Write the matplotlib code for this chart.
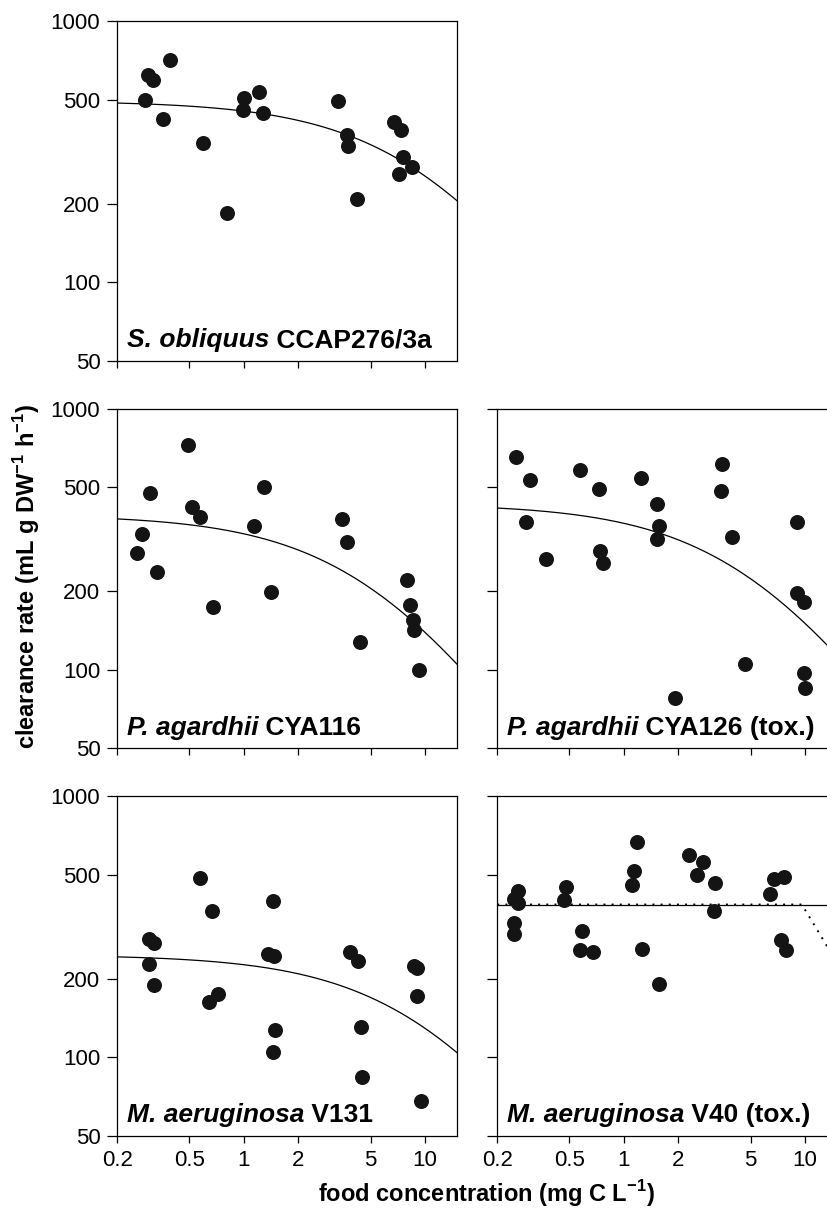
import numpy as np
import matplotlib
matplotlib.use("Agg")
import matplotlib.pyplot as plt

plt.rcParams['font.family'] = ['Liberation Sans', 'DejaVu Sans']
plt.rcParams['mathtext.fontset'] = 'custom'
plt.rcParams['mathtext.rm'] = 'Liberation Sans'
plt.rcParams['mathtext.bf'] = 'Liberation Sans:bold'

# --- data (food conc. mg C/L, clearance rate mL/g DW/h) ---
so_x = [0.285, 0.296, 0.316, 0.392, 0.357, 0.598, 0.809, 1.00, 0.992, 1.21,
        1.27, 3.31, 3.69, 3.76, 4.19, 6.76, 7.37, 7.59, 7.18, 8.51]
so_y = [497, 620, 592, 711, 420, 340, 184, 508, 456, 536,
        445, 492, 365, 332, 208, 412, 383, 302, 259, 276]

pa116_x = [0.494, 0.302, 0.274, 0.258, 0.330, 0.518, 0.574, 0.674, 1.13, 1.285,
           1.405, 3.47, 3.70, 4.385, 7.95, 8.26, 8.61, 8.65, 9.23]
pa116_y = [726, 475, 331, 281, 236, 421, 386, 174, 354, 499,
           198, 378, 308, 128, 221, 177, 155, 142, 100]

pa126_x = [0.253, 0.303, 0.288, 0.373, 0.574, 0.731, 0.738, 0.764, 1.243, 1.518,
           1.569, 1.53, 1.915, 3.48, 3.44, 3.94, 4.68, 9.03, 9.03, 9.87, 9.84, 10.0]
pa126_y = [651, 535, 368, 266, 582, 494, 284, 257, 544, 431,
           356, 318, 78, 615, 482, 323, 105, 367, 196, 181, 97, 85]

ma131_x = [0.298, 0.3205, 0.300, 0.319, 0.569, 0.665, 0.638, 0.722, 1.447, 1.358,
           1.46, 1.479, 1.447, 3.86, 4.26, 4.42, 4.46, 8.63, 9.07, 9.0, 9.47]
ma131_y = [284, 273, 227, 189, 485, 363, 163, 174, 395, 248,
           244, 127, 105, 252, 234, 130, 84, 223, 220, 172, 68]

ma40_x = [0.260, 0.247, 0.260, 0.247, 0.247, 0.477, 0.469, 0.587, 0.570, 0.673,
          1.181, 1.133, 1.104, 1.264, 1.556, 2.296, 2.734, 2.533, 3.185, 3.157,
          6.38, 6.74, 7.63, 7.40, 7.82]
ma40_y = [433, 403, 388, 326, 297, 447, 399, 303, 258, 253,
          669, 518, 458, 260, 191, 593, 559, 499, 466, 364,
          423, 480, 489, 280, 258]

# fitted curves C = a / (k + F), parameters
so_fit = (5253, 10.63)
pa116_fit = (2151, 5.49)
pa126_fit = (2307, 5.345)
ma131_fit = (2699, 10.95)
# V40: constant clearance (solid) and threshold model (dotted)
ma40_const = 384
ma40_dot_x = [0.2, 9.6, 15]
ma40_dot_y = [384, 384, 230]

xticks = [0.2, 0.5, 1, 2, 5, 10]
xticklabels = ['0.2', '0.5', '1', '2', '5', '10']
yticks = [50, 100, 200, 500, 1000]
yticklabels = ['50', '100', '200', '500', '1000']

W, H = 828, 1208
fig = plt.figure(figsize=(W / 100, H / 100), dpi=100)

aw = 339.7 / W
ah = 339.7 / H
lefts = [117.3 / W, 497.3 / W]
bottoms = [1 - 360.7 / H, 1 - 748.3 / H, 1 - 1135.7 / H]

dot_col = '#141414'
tick_fs = 16
panel_fs = 19
axis_fs = 17
xx = np.logspace(np.log10(0.2), np.log10(15), 200)


def make_ax(col, row, ylabels, xlabels):
    ax = fig.add_axes([lefts[col], bottoms[row], aw, ah])
    ax.set_xscale('log')
    ax.set_yscale('log')
    ax.set_xlim(0.2, 15)
    ax.set_ylim(50, 1000)
    ax.set_xticks(xticks)
    ax.set_yticks(yticks)
    ax.minorticks_off()
    ax.set_xticklabels(xticklabels if xlabels else [])
    ax.set_yticklabels(yticklabels if ylabels else [])
    ax.tick_params(axis='y', direction='out', length=7.2, width=0.9, pad=5, labelsize=tick_fs)
    ax.tick_params(axis='x', direction='out', length=5, width=0.9, pad=5, labelsize=tick_fs)
    for s in ax.spines.values():
        s.set_linewidth(0.9)
    return ax


def label(ax, species, strain):
    t1 = ax.text(0.028, 0.04, species, transform=ax.transAxes, style='italic',
                 weight='bold', size=panel_fs, va='baseline')
    ax.annotate(' ' + strain, xy=(1, 0), xycoords=t1, va='bottom',
                weight='bold', size=panel_fs)


def points(ax, x, y):
    ax.plot(x, y, 'o', ms=10.8, color=dot_col, mec='none', zorder=3)


def holling(ax, fit):
    a, k = fit
    ax.plot(xx, a / (k + xx), color='black', lw=0.9, zorder=2)


ax = make_ax(0, 0, True, False)
points(ax, so_x, so_y)
holling(ax, so_fit)
label(ax, 'S. obliquus', 'CCAP276/3a')

ax = make_ax(0, 1, True, False)
points(ax, pa116_x, pa116_y)
holling(ax, pa116_fit)
label(ax, 'P. agardhii', 'CYA116')

ax = make_ax(1, 1, False, False)
points(ax, pa126_x, pa126_y)
holling(ax, pa126_fit)
label(ax, 'P. agardhii', 'CYA126 (tox.)')

ax = make_ax(0, 2, True, True)
points(ax, ma131_x, ma131_y)
holling(ax, ma131_fit)
label(ax, 'M. aeruginosa', 'V131')

ax = make_ax(1, 2, False, True)
points(ax, ma40_x, ma40_y)
ax.axhline(ma40_const, color='black', lw=0.9, zorder=2)
ax.plot(ma40_dot_x, ma40_dot_y, color='black', lw=1.4, ls=(0, (1, 3.2)), zorder=2)
label(ax, 'M. aeruginosa', 'V40 (tox.)')

fig.text(27 / W, 1 - 576 / H, r'clearance rate (mL g DW$^{\mathbf{-1}}$ h$^{\mathbf{-1}}$)',
         rotation=90, ha='center', va='center', weight='bold', size=axis_fs)
fig.text(486 / W, 1 - 1201.5 / H, r'food concentration (mg C L$^{\mathbf{-1}}$)',
         ha='center', va='baseline', weight='bold', size=axis_fs)

fig.savefig('out.png', dpi=100)
